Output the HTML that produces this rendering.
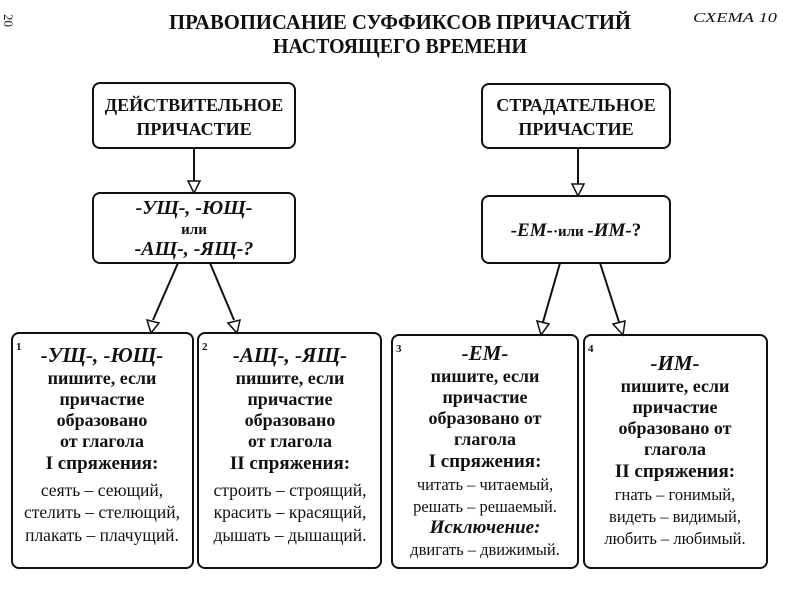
<!DOCTYPE html>
<html><head><meta charset="utf-8"><style>
body{margin:0;background:#fff}
svg{display:block}
text{font-family:"Liberation Serif","DejaVu Serif",serif;fill:#111}
.b{font-weight:bold}
</style></head><body>
<svg width="800" height="600" viewBox="0 0 800 600" xmlns="http://www.w3.org/2000/svg">
<text x="4" y="14" font-size="13" transform="rotate(90 4 14)">20</text>
<text x="400" y="29" font-size="21" class="b" text-anchor="middle" textLength="462" lengthAdjust="spacingAndGlyphs">ПРАВОПИСАНИЕ СУФФИКСОВ ПРИЧАСТИЙ</text>
<text x="400" y="53" font-size="21" class="b" text-anchor="middle" textLength="254" lengthAdjust="spacingAndGlyphs">НАСТОЯЩЕГО ВРЕМЕНИ</text>
<text x="693" y="22" font-size="14" font-style="italic" textLength="84" lengthAdjust="spacingAndGlyphs">СХЕМА 10</text>

<g fill="none" stroke="#111" stroke-width="2">
<rect x="93" y="83" width="202" height="65" rx="7"/>
<rect x="93" y="193" width="202" height="70" rx="7"/>
<rect x="482" y="84" width="188" height="64" rx="7"/>
<rect x="482" y="196" width="188" height="67" rx="7"/>
<rect x="12" y="333" width="181" height="235" rx="7"/>
<rect x="198" y="333" width="183" height="235" rx="7"/>
<rect x="392" y="335" width="186" height="233" rx="7"/>
<rect x="584" y="335" width="183" height="233" rx="7"/>
<line x1="194" y1="148" x2="194" y2="181"/>
<line x1="578" y1="148" x2="578" y2="184"/>
<line x1="178" y1="263" x2="153" y2="320"/>
<line x1="210" y1="263" x2="234" y2="320"/>
<line x1="560" y1="263" x2="543" y2="322"/>
<line x1="600" y1="263" x2="619" y2="322"/>
</g>
<g fill="#fff" stroke="#111" stroke-width="1.5">
<polygon points="188,181 200,181 194,193"/>
<polygon points="572,184 584,184 578,196"/>
<polygon points="147,320 159,323 151,333"/>
<polygon points="228,323 240,320 237,333"/>
<polygon points="537,321 549,324 541,335"/>
<polygon points="613,324 625,321 623,335"/>
</g>

<g class="b" font-size="18" text-anchor="middle">
<text x="194" y="111">ДЕЙСТВИТЕЛЬНОЕ</text>
<text x="194" y="135">ПРИЧАСТИЕ</text>
<text x="576" y="111">СТРАДАТЕЛЬНОЕ</text>
<text x="576" y="135">ПРИЧАСТИЕ</text>
</g>
<g class="b" text-anchor="middle">
<text x="194" y="214" font-size="20" font-style="italic">-УЩ-, -ЮЩ-</text>
<text x="194" y="234" font-size="15">или</text>
<text x="194" y="255" font-size="20" font-style="italic">-АЩ-, -ЯЩ-?</text>
<text x="576" y="236" font-size="19"><tspan font-style="italic">-ЕМ-</tspan><tspan font-size="15">·или </tspan><tspan font-style="italic">-ИМ-</tspan>?</text>
</g>

<g font-size="11" class="b"><text x="16" y="350">1</text><text x="202" y="350">2</text><text x="396" y="352">3</text><text x="588" y="352">4</text></g>

<g text-anchor="middle" font-size="18">
<text x="102" y="362" class="b" font-size="21" font-style="italic">-УЩ-, -ЮЩ-</text>
<text x="102" y="384" class="b">пишите, если</text>
<text x="102" y="405" class="b">причастие</text>
<text x="102" y="426" class="b">образовано</text>
<text x="102" y="447" class="b">от глагола</text>
<text x="102" y="469" class="b" font-size="19">I спряжения:</text>
<text x="102" y="496" font-size="17.5">сеять – сеющий,</text>
<text x="102" y="518" font-size="17.5">стелить – стелющий,</text>
<text x="102" y="541" font-size="17.5">плакать – плачущий.</text>

<text x="290" y="362" class="b" font-size="21" font-style="italic">-АЩ-, -ЯЩ-</text>
<text x="290" y="384" class="b">пишите, если</text>
<text x="290" y="405" class="b">причастие</text>
<text x="290" y="426" class="b">образовано</text>
<text x="290" y="447" class="b">от глагола</text>
<text x="290" y="469" class="b" font-size="19">II спряжения:</text>
<text x="290" y="496" font-size="17.5">строить – строящий,</text>
<text x="290" y="518" font-size="17.5">красить – красящий,</text>
<text x="290" y="541" font-size="17.5">дышать – дышащий.</text>

<text x="485" y="360" class="b" font-size="21" font-style="italic">-ЕМ-</text>
<text x="485" y="382" class="b">пишите, если</text>
<text x="485" y="403" class="b">причастие</text>
<text x="485" y="424" class="b">образовано от</text>
<text x="485" y="445" class="b">глагола</text>
<text x="485" y="467" class="b" font-size="19">I спряжения:</text>
<text x="485" y="490" font-size="16.5">читать – читаемый,</text>
<text x="485" y="512" font-size="16.5">решать – решаемый.</text>
<text x="485" y="533" class="b" font-size="19" font-style="italic">Исключение:</text>
<text x="485" y="555" font-size="16.5">двигать – движимый.</text>

<text x="675" y="370" class="b" font-size="21" font-style="italic">-ИМ-</text>
<text x="675" y="392" class="b">пишите, если</text>
<text x="675" y="413" class="b">причастие</text>
<text x="675" y="434" class="b">образовано от</text>
<text x="675" y="455" class="b">глагола</text>
<text x="675" y="477" class="b" font-size="19">II спряжения:</text>
<text x="675" y="500" font-size="16.5">гнать – гонимый,</text>
<text x="675" y="522" font-size="16.5">видеть – видимый,</text>
<text x="675" y="544" font-size="16.5">любить – любимый.</text>
</g>
</svg>
</body></html>
